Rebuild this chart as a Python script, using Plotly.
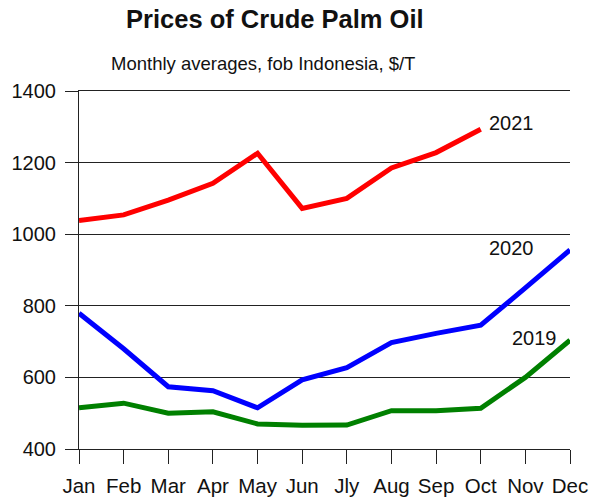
import plotly.graph_objects as go

# months on the x axis
months = ["Jan", "Feb", "Mar", "Apr", "May", "Jun", "Jly", "Aug", "Sep", "Oct", "Nov", "Dec"]

# monthly averages, $/T
p2019 = [515, 528, 500, 504, 470, 466, 467, 507, 507, 514, 600, 704]
p2020 = [779, 680, 574, 563, 515, 593, 627, 697, 723, 746, 850, 956]
p2021 = [1038, 1054, 1095, 1142, 1226, 1072, 1100, 1185, 1228, 1293]

yticks = [400, 600, 800, 1000, 1200, 1400]

FONT = "Liberation Sans, Arial, sans-serif"
idx = list(range(len(months)))

fig = go.Figure()
fig.add_trace(go.Scatter(x=idx, y=p2019, mode="lines", line=dict(color="#008000", width=5), name="2019"))
fig.add_trace(go.Scatter(x=idx, y=p2020, mode="lines", line=dict(color="#0000ff", width=5), name="2020"))
fig.add_trace(go.Scatter(x=idx[:len(p2021)], y=p2021, mode="lines", line=dict(color="#ff0000", width=5), name="2021"))

# year labels next to the lines
fig.add_annotation(x=9, y=1311, text="2021", xanchor="left", xshift=6, showarrow=False)
fig.add_annotation(x=9, y=961, text="2020", xanchor="left", xshift=6, showarrow=False)
fig.add_annotation(x=9, y=710, text="2019", xanchor="left", xshift=29, showarrow=False)

# title + subtitle
fig.add_annotation(text="<b>Prices of Crude Palm Oil</b>", xref="paper", yref="paper",
                   x=(275 - 79) / 491, y=1, yshift=88, showarrow=False, font=dict(size=25.5))
fig.add_annotation(text="Monthly averages, fob Indonesia, $/T", xref="paper", yref="paper",
                   x=(263 - 79) / 491, y=1, yshift=40, showarrow=False, font=dict(size=18.5))

fig.update_xaxes(tickvals=idx, ticktext=months, range=[0, 11], showgrid=False, automargin=False,
                 showline=True, mirror=True, linecolor="#222", linewidth=1,
                 ticks="outside", ticklen=14, tickcolor="#222", tickfont=dict(size=20.5),
                 ticklabelstandoff=4)
fig.update_yaxes(tickvals=yticks, range=[400, 1400], showgrid=True, gridcolor="#222", gridwidth=1,
                 showline=True, linecolor="#222", linewidth=1, zeroline=False, automargin=False,
                 ticks="outside", ticklen=13, tickcolor="#222", tickfont=dict(size=20),
                 ticklabelstandoff=5)

fig.update_layout(width=592, height=501, showlegend=False,
                  margin=dict(l=79, r=22, t=91, b=52),
                  plot_bgcolor="white", paper_bgcolor="white",
                  font=dict(family=FONT, color="#111", size=20))

# drop the default 8px body margin so the figure fills the window exactly
fig.write_html("out.html", config={"displayModeBar": False},
               post_script="document.body.style.margin='0';document.body.style.overflow='hidden';")
